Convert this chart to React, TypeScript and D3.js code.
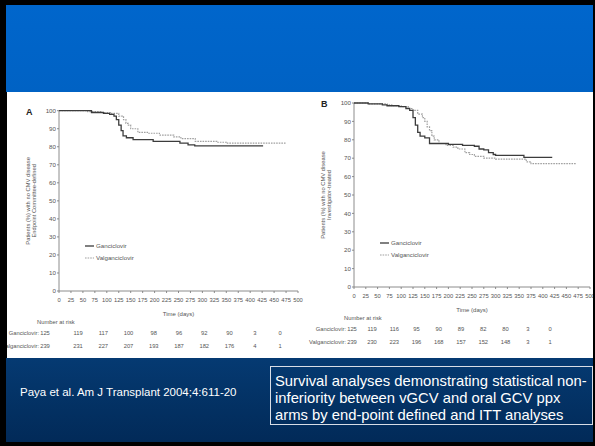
import React from 'react';
import * as d3 from 'd3';

// Kaplan-Meier steps (days, % free of CMV disease)
const ganA_t = [0, 68, 93, 106, 115, 120, 125, 130, 134, 141, 155, 197, 253, 270, 284, 427];
const ganA_v = [100, 99, 98.5, 98, 97, 95, 92, 89, 86, 85, 84, 83, 82, 81, 80.5, 80.5];
const valA_t = [0, 60, 90, 110, 125, 135, 140, 145, 150, 165, 185, 210, 240, 255, 285, 330, 350, 476];
const valA_v = [100, 99.5, 99, 98.5, 97, 95, 93, 92, 90, 88, 87.5, 86.5, 85.5, 84.5, 83, 82.5, 82, 82];

const ganB_t = [0, 30, 60, 70, 95, 110, 118, 125, 130, 135, 140, 150, 160, 200, 230, 255, 265, 275, 285, 295, 300, 360, 420];
const ganB_v = [100, 99.5, 99, 98.5, 98, 97, 96, 92, 88, 84, 82, 81, 78, 77.5, 77, 76.5, 75, 74.5, 73, 72, 71.5, 70.5, 70.5];
const valB_t = [0, 30, 70, 80, 100, 115, 125, 135, 145, 150, 155, 160, 165, 170, 180, 195, 210, 220, 235, 245, 255, 275, 300, 365, 375, 470];
const valB_v = [100, 99.5, 99, 98.5, 98, 97, 96, 94, 92, 90, 87, 85, 82, 80, 78, 77, 76, 75, 73, 72, 71, 70, 69.5, 68, 67, 67];

const xTicks = d3.range(0, 501, 25);
const yTicks = d3.range(0, 101, 10);

const riskGanA = ['125', '119', '117', '100', '98', '96', '92', '90', '3', '0'];
const riskValA = ['239', '231', '227', '207', '193', '187', '182', '176', '4', '1'];
const riskGanB = ['125', '119', '116', '95', '90', '89', '82', '80', '3', '0'];
const riskValB = ['239', '230', '223', '196', '168', '157', '152', '148', '3', '1'];

const citation = 'Paya et al. Am J Transplant 2004;4:611-20';
const boxLines = [
  'Survival analyses demonstrating statistical non-',
  'inferiority between vGCV and oral GCV ppx',
  'arms by end-point defined and ITT analyses',
];

const FONT = 'Arial, "Liberation Sans", sans-serif';
const GAN = '#3c3c3c';
const VAL = '#a0a0a0';
const AX = '#808080';
const TXT = '#555';

type PanelProps = {
  letter: string;
  x0: number; x1: number; y0: number; y1: number;
  subLabel: string;
  gt: number[]; gv: number[]; vt: number[]; vv: number[];
  riskG: string[]; riskV: string[];
  riskFirst: number; riskStart: number; riskEnd: number;
  legendX: number; legendY: number;
};

function Panel(p: PanelProps) {
  const x = d3.scaleLinear().domain([0, 500]).range([p.x0, p.x1]);
  const y = d3.scaleLinear().domain([0, 100]).range([p.y0, p.y1]);
  const line = d3.line<[number, number]>()
    .x(d => x(d[0]))
    .y(d => y(d[1]))
    .curve(d3.curveStepAfter);
  const gPts = p.gt.map((t, i) => [t, p.gv[i]] as [number, number]);
  const vPts = p.vt.map((t, i) => [t, p.vv[i]] as [number, number]);
  const cols = d3.scalePoint<number>().domain(d3.range(1, 10)).range([p.riskStart, p.riskEnd]);
  const colX = (i: number) => (i === 0 ? p.riskFirst : (cols(i) as number));
  const midY = (p.y0 + p.y1) / 2;
  const rowY1 = p.y0 + 44;
  const rowY2 = p.y0 + 57;
  return (
    <g fontFamily={FONT}>
      <text x={p.x0 - 33} y={p.y1 + 4} fontSize={9} fontWeight="bold" fill="#222">{p.letter}</text>
      <text transform={`translate(${p.x0 - 29},${midY}) rotate(-90)`} textAnchor="middle" fontSize={5.8} fill={TXT}>
        Patients (%) with no CMV disease
      </text>
      <text transform={`translate(${p.x0 - 23},${midY}) rotate(-90)`} textAnchor="middle" fontSize={5.8} fill={TXT}>
        {p.subLabel}
      </text>
      {/* axes */}
      <line x1={p.x0} x2={p.x0} y1={p.y0} y2={p.y1} stroke={AX} strokeWidth={0.9} />
      <line x1={p.x0} x2={p.x1} y1={p.y0} y2={p.y0} stroke={AX} strokeWidth={0.9} />
      {yTicks.map(t => (
        <g key={'y' + t}>
          <line x1={p.x0 - 2} x2={p.x0} y1={y(t)} y2={y(t)} stroke={AX} strokeWidth={0.9} />
          <text x={p.x0 - 3} y={y(t) + 2.2} textAnchor="end" fontSize={6.2} fill={TXT}>{t}</text>
        </g>
      ))}
      {xTicks.map(t => (
        <g key={'x' + t}>
          <line x1={x(t)} x2={x(t)} y1={p.y0} y2={p.y0 + 2} stroke={AX} strokeWidth={0.9} />
          <text x={x(t)} y={p.y0 + 10.5} textAnchor="middle" fontSize={5.8} fill={TXT}>{t}</text>
        </g>
      ))}
      <text x={(p.x0 + p.x1) / 2} y={p.y0 + 25} textAnchor="middle" fontSize={6} fill={TXT}>Time (days)</text>
      {/* curves */}
      <path d={line(vPts) || ''} fill="none" stroke={VAL} strokeWidth={1.2} strokeDasharray="1.6,1" />
      <path d={line(gPts) || ''} fill="none" stroke={GAN} strokeWidth={1.3} />
      {/* legend */}
      <line x1={p.legendX} x2={p.legendX + 9} y1={p.legendY} y2={p.legendY} stroke={GAN} strokeWidth={1.3} />
      <text x={p.legendX + 11} y={p.legendY + 2.2} fontSize={6.2} fill={TXT}>Ganciclovir</text>
      <line x1={p.legendX} x2={p.legendX + 9} y1={p.legendY + 12} y2={p.legendY + 12} stroke={VAL} strokeWidth={1.2} strokeDasharray="1.6,1" />
      <text x={p.legendX + 11} y={p.legendY + 14.2} fontSize={6.2} fill={TXT}>Valganciclovir</text>
      {/* number at risk */}
      <text x={p.riskFirst - 8} y={p.y0 + 33} fontSize={5.8} fill={TXT}>Number at risk</text>
      <text x={p.riskFirst - 6} y={rowY1} textAnchor="end" fontSize={5.8} fill={TXT}>Ganciclovir:</text>
      <text x={p.riskFirst - 6} y={rowY2} textAnchor="end" fontSize={5.8} fill={TXT}>Valganciclovir:</text>
      {p.riskG.map((d, i) => (
        <text key={'g' + i} x={colX(i)} y={rowY1} textAnchor="middle" fontSize={5.8} fill={TXT}>{d}</text>
      ))}
      {p.riskV.map((d, i) => (
        <text key={'v' + i} x={colX(i)} y={rowY2} textAnchor="middle" fontSize={5.8} fill={TXT}>{d}</text>
      ))}
    </g>
  );
}

export default function App() {
  return (
    <svg width={595} height={446} style={{ position: 'absolute', left: 0, top: 0 }} fontFamily={FONT}>
      <defs>
        <linearGradient id="navy" x1="0" y1="0" x2="0" y2="1">
          <stop offset="0" stopColor="#053a72" />
          <stop offset="1" stopColor="#022a58" />
        </linearGradient>
        <linearGradient id="blue" x1="0" y1="0" x2="0" y2="1">
          <stop offset="0" stopColor="#0066cc" />
          <stop offset="1" stopColor="#0062c4" />
        </linearGradient>
        <clipPath id="panelClip">
          <rect x={7} y={92} width={586} height={266} />
        </clipPath>
      </defs>
      <rect x={0} y={0} width={595} height={446} fill="#000" />
      <rect x={6} y={5} width={587} height={87} fill="url(#blue)" />
      <rect x={6} y={358} width={587} height={84} fill="url(#navy)" />
      <rect x={7} y={92} width={586} height={266} fill="#fff" />
      <g clipPath="url(#panelClip)">
        <Panel letter="A" x0={59} x1={298} y0={291} y1={110.7}
          subLabel="Endpoint Committee-defined"
          gt={ganA_t} gv={ganA_v} vt={valA_t} vv={valA_v}
          riskG={riskGanA} riskV={riskValA}
          riskFirst={45} riskStart={78} riskEnd={280}
          legendX={85} legendY={246} />
        <Panel letter="B" x0={354} x1={590} y0={287} y1={103}
          subLabel="Investigator-treated"
          gt={ganB_t} gv={ganB_v} vt={valB_t} vv={valB_v}
          riskG={riskGanB} riskV={riskValB}
          riskFirst={352} riskStart={372} riskEnd={550}
          legendX={380} legendY={243} />
      </g>
      <text x={20} y={396} fontSize={11.5} fill="#fff">{citation}</text>
      <rect x={270.5} y={366.5} width={322} height={58} fill="none" stroke="#d8dde6" strokeWidth={1} />
      {boxLines.map((s, i) => (
        <text key={i} x={275} y={386 + i * 17} fontSize={14.8} fill="#fff">{s}</text>
      ))}
    </svg>
  );
}
